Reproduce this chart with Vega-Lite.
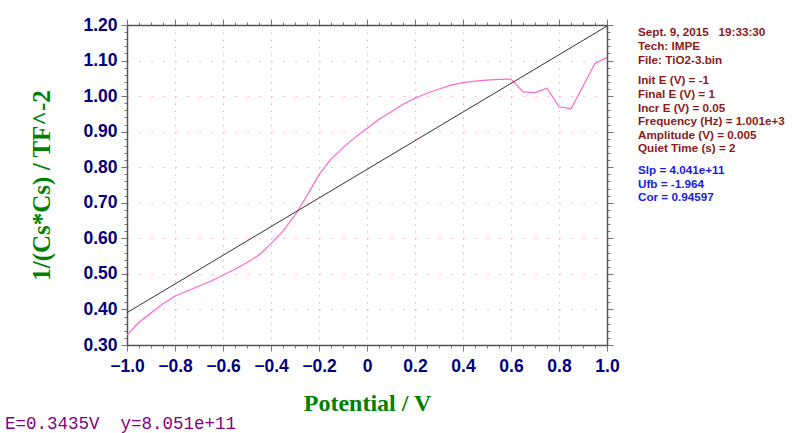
{
  "$schema": "https://vega.github.io/schema/vega-lite/v6.json",
  "width": 480,
  "height": 320,
  "autosize": {"type": "none"},
  "padding": {"left": 127, "top": 25, "right": 193, "bottom": 88},
  "background": "white",
  "config": {
    "view": {"stroke": null},
    "axis": {
      "domainColor": "#555555",
      "domainWidth": 1.5,
      "tickColor": "#777777",
      "tickWidth": 1,
      "labelFont": "Liberation Sans",
      "labelFontWeight": "bold",
      "labelFontSize": 17.5,
      "labelColor": "#000080",
      "labelOverlap": false,
      "labelFlush": false,
      "labelBound": false,
      "titleFont": "Liberation Serif",
      "titleFontWeight": "bold",
      "titleColor": "#008000"
    }
  },
  "datasets": {
    "curve": [
      {"E": -1.00, "V": 0.328}, {"E": -0.95, "V": 0.364}, {"E": -0.90, "V": 0.390},
      {"E": -0.85, "V": 0.416}, {"E": -0.80, "V": 0.438}, {"E": -0.75, "V": 0.452},
      {"E": -0.70, "V": 0.466}, {"E": -0.65, "V": 0.480}, {"E": -0.60, "V": 0.496},
      {"E": -0.55, "V": 0.513}, {"E": -0.50, "V": 0.532}, {"E": -0.45, "V": 0.553},
      {"E": -0.40, "V": 0.585}, {"E": -0.35, "V": 0.620}, {"E": -0.30, "V": 0.665},
      {"E": -0.25, "V": 0.720}, {"E": -0.20, "V": 0.779}, {"E": -0.15, "V": 0.823},
      {"E": -0.10, "V": 0.855}, {"E": -0.05, "V": 0.884}, {"E": 0.00, "V": 0.909},
      {"E": 0.05, "V": 0.935}, {"E": 0.10, "V": 0.955}, {"E": 0.15, "V": 0.977},
      {"E": 0.20, "V": 0.994}, {"E": 0.25, "V": 1.008}, {"E": 0.30, "V": 1.020},
      {"E": 0.35, "V": 1.031}, {"E": 0.40, "V": 1.038}, {"E": 0.45, "V": 1.042},
      {"E": 0.50, "V": 1.045}, {"E": 0.55, "V": 1.047}, {"E": 0.60, "V": 1.048},
      {"E": 0.65, "V": 1.012}, {"E": 0.70, "V": 1.010}, {"E": 0.75, "V": 1.022},
      {"E": 0.80, "V": 0.970}, {"E": 0.85, "V": 0.964}, {"E": 0.90, "V": 1.028},
      {"E": 0.95, "V": 1.092}, {"E": 1.00, "V": 1.109}
    ],
    "fit": [
      {"E": -1.0, "V": 0.391},
      {"E": 1.0, "V": 1.197}
    ]
  },
  "resolve": {"axis": {"x": "independent", "y": "independent"}},
  "layer": [
    {
      "data": {"name": "curve"},
      "mark": {"type": "line", "color": "#ff66cc", "strokeWidth": 1.2},
      "encoding": {
        "x": {
          "field": "E", "type": "quantitative",
          "scale": {"domain": [-1, 1], "nice": false, "zero": false},
          "axis": {
            "orient": "bottom",
            "values": [-1, -0.95, -0.9, -0.85, -0.8, -0.75, -0.7, -0.65, -0.6, -0.55, -0.5, -0.45, -0.4, -0.35, -0.3, -0.25, -0.2, -0.15, -0.1, -0.05, 0, 0.05, 0.1, 0.15, 0.2, 0.25, 0.3, 0.35, 0.4, 0.45, 0.5, 0.55, 0.6, 0.65, 0.7, 0.75, 0.8, 0.85, 0.9, 0.95, 1],
            "labelExpr": "abs(datum.value*5 - round(datum.value*5)) < 0.001 ? (abs(datum.value) < 0.001 ? '0' : format(datum.value, '.1f')) : ''",
            "tickSize": {"condition": {"test": "abs(datum.value*5 - round(datum.value*5)) < 0.001", "value": 6}, "value": 3},
            "labelPadding": 6,
            "grid": true,
            "gridColor": "#ff88cc",
            "gridDash": [1.2, 5.9],
            "gridOpacity": {"condition": {"test": "abs(datum.value*5 - round(datum.value*5)) < 0.001", "value": 1}, "value": 0},
            "title": "Potential / V",
            "titleFontSize": 24,
            "titlePadding": 17
          }
        },
        "y": {
          "field": "V", "type": "quantitative",
          "scale": {"domain": [0.3, 1.2], "nice": false, "zero": false},
          "axis": {
            "orient": "left",
            "values": [0.3, 0.32, 0.34, 0.36, 0.38, 0.4, 0.42, 0.44, 0.46, 0.48, 0.5, 0.52, 0.54, 0.56, 0.58, 0.6, 0.62, 0.64, 0.66, 0.68, 0.7, 0.72, 0.74, 0.76, 0.78, 0.8, 0.82, 0.84, 0.86, 0.88, 0.9, 0.92, 0.94, 0.96, 0.98, 1.0, 1.02, 1.04, 1.06, 1.08, 1.1, 1.12, 1.14, 1.16, 1.18, 1.2],
            "labelExpr": "abs(datum.value*10 - round(datum.value*10)) < 0.001 ? format(datum.value, '.2f') : ''",
            "tickSize": {"condition": {"test": "abs(datum.value*10 - round(datum.value*10)) < 0.001", "value": 6}, "value": 3},
            "labelPadding": 4,
            "grid": true,
            "gridColor": "#ff88cc",
            "gridDash": [1.2, 10.8],
            "gridOpacity": {"condition": {"test": "abs(datum.value*10 - round(datum.value*10)) < 0.001", "value": 1}, "value": 0},
            "title": "1/(Cs*Cs) / TF^-2",
            "titleFontSize": 25,
            "titlePadding": 28
          }
        }
      }
    },
    {
      "data": {"name": "fit"},
      "mark": {"type": "line", "color": "#333333", "strokeWidth": 1},
      "encoding": {
        "x": {
          "field": "E", "type": "quantitative",
          "scale": {"domain": [-1, 1], "nice": false, "zero": false},
          "axis": {
            "orient": "top",
            "values": [-1, -0.95, -0.9, -0.85, -0.8, -0.75, -0.7, -0.65, -0.6, -0.55, -0.5, -0.45, -0.4, -0.35, -0.3, -0.25, -0.2, -0.15, -0.1, -0.05, 0, 0.05, 0.1, 0.15, 0.2, 0.25, 0.3, 0.35, 0.4, 0.45, 0.5, 0.55, 0.6, 0.65, 0.7, 0.75, 0.8, 0.85, 0.9, 0.95, 1],
            "labels": false,
            "tickSize": {"condition": {"test": "abs(datum.value*5 - round(datum.value*5)) < 0.001", "value": 6}, "value": 3},
            "grid": false,
            "title": null
          }
        },
        "y": {
          "field": "V", "type": "quantitative",
          "scale": {"domain": [0.3, 1.2], "nice": false, "zero": false},
          "axis": {
            "orient": "right",
            "values": [0.3, 0.32, 0.34, 0.36, 0.38, 0.4, 0.42, 0.44, 0.46, 0.48, 0.5, 0.52, 0.54, 0.56, 0.58, 0.6, 0.62, 0.64, 0.66, 0.68, 0.7, 0.72, 0.74, 0.76, 0.78, 0.8, 0.82, 0.84, 0.86, 0.88, 0.9, 0.92, 0.94, 0.96, 0.98, 1.0, 1.02, 1.04, 1.06, 1.08, 1.1, 1.12, 1.14, 1.16, 1.18, 1.2],
            "labels": false,
            "tickSize": {"condition": {"test": "abs(datum.value*10 - round(datum.value*10)) < 0.001", "value": 6}, "value": 3},
            "grid": false,
            "title": null
          }
        }
      }
    },
    {
      "data": {"values": [{}]},
      "mark": {"type": "text", "text": ["Sept. 9, 2015\u00a0\u00a0\u00a019:33:30", "Tech: IMPE", "File: TiO2-3.bin"], "align": "left", "baseline": "top", "font": "Liberation Sans", "fontWeight": "bold", "fontSize": 11.7, "lineHeight": 13.6, "color": "#8b1a1a"},
      "encoding": {
        "x": {"datum": 1.129, "type": "quantitative", "scale": {"domain": [-1, 1], "nice": false, "zero": false}, "axis": null},
        "y": {"datum": 1.193, "type": "quantitative", "scale": {"domain": [0.3, 1.2], "nice": false, "zero": false}, "axis": null}
      }
    },
    {
      "data": {"values": [{}]},
      "mark": {"type": "text", "text": ["Init E (V) = -1", "Final E (V) = 1", "Incr E (V) = 0.05", "Frequency (Hz) = 1.001e+3", "Amplitude (V) = 0.005", "Quiet Time (s) = 2"], "align": "left", "baseline": "top", "font": "Liberation Sans", "fontWeight": "bold", "fontSize": 11.7, "lineHeight": 13.6, "color": "#8b1a1a"},
      "encoding": {
        "x": {"datum": 1.129, "type": "quantitative", "scale": {"domain": [-1, 1], "nice": false, "zero": false}, "axis": null},
        "y": {"datum": 1.058, "type": "quantitative", "scale": {"domain": [0.3, 1.2], "nice": false, "zero": false}, "axis": null}
      }
    },
    {
      "data": {"values": [{}]},
      "mark": {"type": "text", "text": ["Slp = 4.041e+11", "Ufb = -1.964", "Cor = 0.94597"], "align": "left", "baseline": "top", "font": "Liberation Sans", "fontWeight": "bold", "fontSize": 11.7, "lineHeight": 13.6, "color": "#1a1ae6"},
      "encoding": {
        "x": {"datum": 1.129, "type": "quantitative", "scale": {"domain": [-1, 1], "nice": false, "zero": false}, "axis": null},
        "y": {"datum": 0.806, "type": "quantitative", "scale": {"domain": [0.3, 1.2], "nice": false, "zero": false}, "axis": null}
      }
    },
    {
      "data": {"values": [{}]},
      "mark": {"type": "text", "text": "E=0.3435V\u00a0\u00a0y=8.051e+11", "align": "left", "baseline": "top", "font": "Liberation Mono", "fontSize": 17.5, "color": "#800080"},
      "encoding": {
        "x": {"datum": -1.508, "type": "quantitative", "scale": {"domain": [-1, 1], "nice": false, "zero": false}, "axis": null},
        "y": {"datum": 0.1045, "type": "quantitative", "scale": {"domain": [0.3, 1.2], "nice": false, "zero": false}, "axis": null}
      }
    }
  ]
}
